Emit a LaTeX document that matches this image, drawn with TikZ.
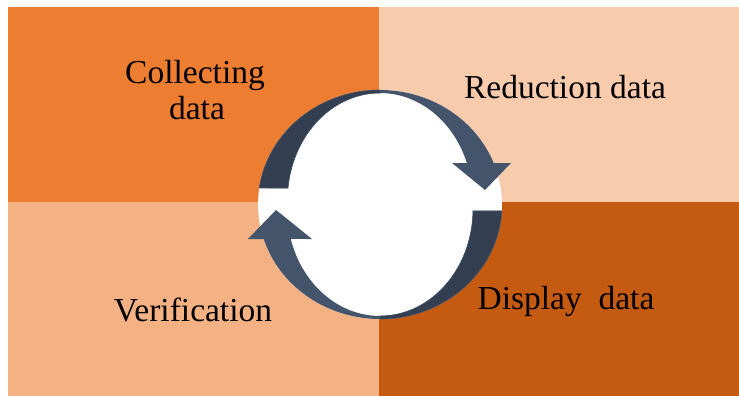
\documentclass[tikz,border=0pt]{standalone}
\usepackage{fontspec}
\setmainfont{Liberation Serif}
\definecolor{quadTL}{HTML}{ED7D31}
\definecolor{quadTR}{HTML}{F8CBAD}
\definecolor{quadBL}{HTML}{F4B183}
\definecolor{quadBR}{HTML}{C55A11}
\definecolor{arrowlight}{HTML}{44546A}
\definecolor{arrowdark}{HTML}{333F50}
\begin{document}
\begin{tikzpicture}[x=1pt,y=-1pt,
  lbl/.style={inner sep=0pt, font=\fontsize{33.5}{36}\selectfont, anchor=base},
  shade/.style={fill=arrowdark, draw=arrowlight, line width=0.6pt}]
\useasboundingbox (0,0) rectangle (739,396);
\fill[white] (0,0) rectangle (739,396);
% four quadrants
\fill[quadTL] (8,7) rectangle (379,202);
\fill[quadTR] (379,7) rectangle (739,202);
\fill[quadBL] (8,202) rectangle (379,396);
\fill[quadBR] (379,202) rectangle (739,396);
% white disc behind the cycle
\fill[white] plot[domain=0:360, samples=120] ({380+122*cos(\x)},{204.5+114.5*sin(\x)}) -- cycle;
% upper arrow: tail on the left, head pointing down on the right
\fill[arrowlight] plot[domain=188.3:338.75, samples=80] ({380+122*cos(\x)},{204.5+114.5*sin(\x)})
  -- (511,163) -- (485,190) -- (452,163)
  -- plot[domain=339.8:186.4, samples=80] ({380+92.6*cos(\x)},{200+107*sin(\x)}) -- cycle;
\filldraw[shade] plot[domain=188.3:270, samples=60] ({380+122*cos(\x)},{204.5+114.5*sin(\x)})
  -- plot[domain=270:186.4, samples=60] ({380+92.6*cos(\x)},{200+107*sin(\x)}) -- cycle;
% lower arrow: tail on the right, head pointing up on the left
\fill[arrowlight] plot[domain=3.25:162.46, samples=80] ({380+122*cos(\x)},{204.5+114.5*sin(\x)})
  -- (248,239) -- (276,210) -- (312,239)
  -- plot[domain=163.72:1.07, samples=80] ({380+93*cos(\x)},{209+107*sin(\x)}) -- cycle;
\filldraw[shade] plot[domain=3.25:90, samples=60] ({380+122*cos(\x)},{204.5+114.5*sin(\x)})
  -- plot[domain=90:1.07, samples=60] ({380+93*cos(\x)},{209+107*sin(\x)}) -- cycle;
% labels
\node[lbl] (collect) at (195,84) {Collecting};
\node[lbl] (collectb) at (197,119) {data};
\node[lbl] (reduce) at (565,99) {Reduction data};
\node[lbl] (display) at (566,309) {Display\ \ data};
\node[lbl] (verify) at (193,321) {Verification};
\end{tikzpicture}
\end{document}
